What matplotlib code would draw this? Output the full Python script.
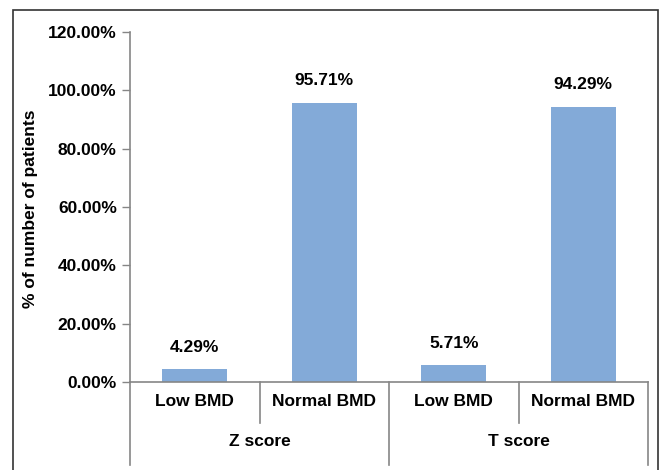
import matplotlib
matplotlib.use("Agg")
import matplotlib.pyplot as plt
from matplotlib.patches import Rectangle
from matplotlib.transforms import blended_transform_factory

plt.rcParams['font.family'] = ['Liberation Sans', 'DejaVu Sans']
plt.rcParams['font.weight'] = 'bold'

# data
categories = ["Low BMD", "Normal BMD", "Low BMD", "Normal BMD"]
groups = ["Z score", "T score"]
values = [4.29, 95.71, 5.71, 94.29]
labels = ["4.29%", "95.71%", "5.71%", "94.29%"]
yticks = [0, 20, 40, 60, 80, 100, 120]

W, H = 659, 470
fig = plt.figure(figsize=(W / 100, H / 100), dpi=100)
ax = fig.add_axes([130 / W, 1 - 382 / H, (648 - 130) / W, 350 / H])

grey = '#868686'
fs = 12.5

x = list(range(len(values)))
ax.bar(x, values, width=0.5, color='#83AAD8', zorder=2)
for xi, v, lab in zip(x, values, labels):
    ax.annotate(lab, (xi, v), xytext=(0, 10.5), textcoords='offset points',
                ha='center', va='bottom', fontsize=fs, fontweight='bold')

ax.set_xlim(-0.5, 3.5)
ax.set_ylim(0, 120)
ax.set_yticks(yticks)
ax.set_yticklabels([f"{t:.2f}%" for t in yticks], fontsize=fs, fontweight='bold')
ax.set_xticks([])
ax.tick_params(axis='y', length=6, width=1, color=grey, pad=3.5)

for s in ['top', 'right']:
    ax.spines[s].set_visible(False)
for s in ['left', 'bottom']:
    ax.spines[s].set_color(grey)
    ax.spines[s].set_linewidth(1.2)

tr = blended_transform_factory(ax.transData, ax.transAxes)
short_y = (382 - 423) / 350
long_y = (382 - 465) / 350

# category labels
for xi, c in zip(x, categories):
    ax.text(xi, (382 - 401) / 350, c, transform=tr, ha='center', va='center',
            fontsize=fs, fontweight='bold')

# group labels
for gi, g in enumerate(groups):
    ax.text(gi * 2 + 0.5, (382 - 442) / 350, g, transform=tr, ha='center',
            va='center', fontsize=fs, fontweight='bold')

# separators
for b in [-0.5, 0.5, 1.5, 2.5, 3.5]:
    yb = short_y if b in (0.5, 2.5) else long_y
    ax.plot([b, b], [0, yb], transform=tr, color=grey, lw=1.2, clip_on=False)

fig.text(31 / W, 1 - 209 / H, "% of number of patients", rotation=90,
         ha='center', va='center', fontsize=fs, fontweight='bold')

# outer chart border
fig.patches.append(Rectangle((13 / W, -0.1), (658 - 13) / W, 1.1 - 10 / H,
                             transform=fig.transFigure, fill=False,
                             edgecolor='#333333', lw=1.2))

fig.savefig("out.png", dpi=100)
